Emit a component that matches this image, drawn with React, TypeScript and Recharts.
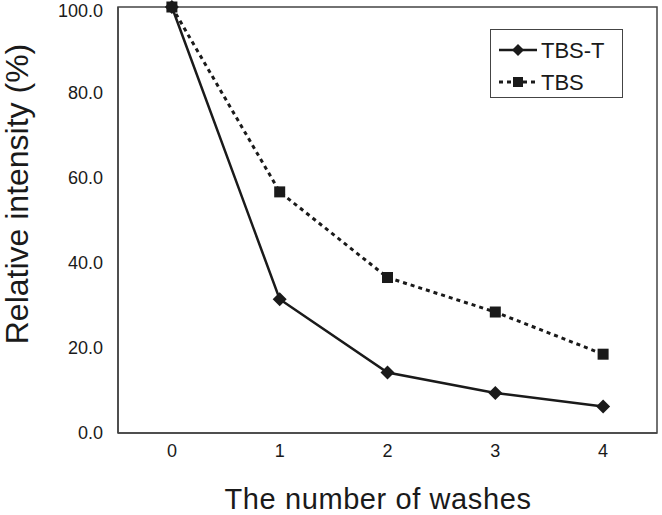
import React from 'react';
import { LineChart, Line, XAxis, YAxis, Legend, ReferenceArea } from 'recharts';

const washes = [0, 1, 2, 3, 4];
const tbsT = [100, 31.4, 14.2, 9.4, 6.2];
const tbs = [100, 56.6, 36.5, 28.4, 18.5];
const yTicks = [0, 20, 40, 60, 80, 100];
const bandEdges = [-0.5, 0.5, 1.5, 2.5, 3.5, 4.5];

const data = washes.map((w, i) => ({ wash: w, tbsT: tbsT[i], tbs: tbs[i] }));

const font = '"Liberation Sans", Arial, sans-serif';
const ink = '#1a1a1a';
const axisColor = '#444';

const Diamond = (props: any) => {
  const { cx, cy, index } = props;
  const r = 7;
  return (
    <path
      key={`dm-${index}`}
      d={`M${cx},${cy - r} L${cx + r},${cy} L${cx},${cy + r} L${cx - r},${cy} Z`}
      fill={ink}
    />
  );
};

const Square = (props: any) => {
  const { cx, cy, index } = props;
  const s = 5.5;
  return <rect key={`sq-${index}`} x={cx - s} y={cy - s} width={s * 2} height={s * 2} fill={ink} />;
};

const LegendBox = () => (
  <div
    style={{
      width: 133,
      height: 69,
      boxSizing: 'border-box',
      border: `1.5px solid ${axisColor}`,
      background: '#fff',
      position: 'relative',
    }}
  >
    <svg width={133} height={69} style={{ position: 'absolute', left: -1.5, top: -1.5 }}>
      <line x1={9} x2={47} y1={21} y2={21} stroke={ink} strokeWidth={2.5} />
      <path d="M28,15 L34,21 L28,27 L22,21 Z" fill={ink} />
      <line x1={9} x2={47} y1={53} y2={53} stroke={ink} strokeWidth={3} strokeDasharray="4 4" />
      <rect x={23} y={48} width={10} height={10} fill={ink} />
      <text x={51} y={29} fontSize={22} fontFamily={font} fill={ink}>TBS-T</text>
      <text x={51} y={61} fontSize={22} fontFamily={font} fill={ink}>TBS</text>
    </svg>
  </div>
);

const XTitle = () => (
  <text x={378} y={509} textAnchor="middle" fontSize={29} letterSpacing={0.6} fontFamily={font} fill={ink}>
    The number of washes
  </text>
);

const YTitle = () => (
  <text
    x={28}
    y={194}
    textAnchor="middle"
    transform="rotate(-90, 28, 194)"
    fontSize={32}
    fontFamily={font}
    fill={ink}
  >
    Relative intensity (%)
  </text>
);

export default function App() {
  return (
    <div style={{ position: 'absolute', left: 0, top: 0, width: 662, height: 515, background: '#fff' }}>
      <LineChart width={662} height={515} data={data} margin={{ top: 7, right: 5, left: 0, bottom: 0 }}>
        <XAxis
          xAxisId="labels"
          dataKey="wash"
          type="number"
          domain={[-0.5, 4.5]}
          ticks={washes}
          height={82}
          tickLine={false}
          axisLine={false}
          tickMargin={5}
          tick={{ fontSize: 18, fontFamily: font, fill: ink }}
          label={{ content: () => <XTitle /> }}
        />
        <XAxis
          xAxisId="marks"
          dataKey="wash"
          type="number"
          domain={[-0.5, 4.5]}
          ticks={bandEdges}
          mirror
          tick={false}
          tickSize={5}
          stroke={axisColor}
          strokeWidth={1.5}
        />
        <YAxis
          yAxisId="labels"
          type="number"
          domain={[0, 100]}
          ticks={yTicks}
          width={118}
          tickLine={false}
          axisLine={false}
          tickMargin={9}
          tickFormatter={(v: number) => v.toFixed(1)}
          tick={{ fontSize: 18, fontFamily: font, fill: ink }}
          label={{ content: () => <YTitle /> }}
        />
        <YAxis
          yAxisId="marks"
          type="number"
          domain={[0, 100]}
          ticks={yTicks}
          mirror
          tick={false}
          tickSize={5}
          stroke={axisColor}
          strokeWidth={1.5}
        />
        <ReferenceArea
          xAxisId="labels"
          yAxisId="labels"
          x1={-0.5}
          x2={4.5}
          y1={0}
          y2={100}
          fill="none"
          stroke={axisColor}
          strokeWidth={1.5}
          ifOverflow="visible"
        />
        <Line
          xAxisId="labels"
          yAxisId="labels"
          dataKey="tbs"
          name="TBS"
          stroke={ink}
          strokeWidth={3}
          strokeDasharray="4 4"
          dot={Square}
          activeDot={false}
          isAnimationActive={false}
        />
        <Line
          xAxisId="labels"
          yAxisId="labels"
          dataKey="tbsT"
          name="TBS-T"
          stroke={ink}
          strokeWidth={2.5}
          dot={Diamond}
          activeDot={false}
          isAnimationActive={false}
        />
        <Legend
          layout="horizontal"
          verticalAlign="middle"
          align="center"
          content={() => <LegendBox />}
          wrapperStyle={{ position: 'absolute', left: 490, top: 29, width: 133, height: 69 }}
        />
      </LineChart>
    </div>
  );
}
